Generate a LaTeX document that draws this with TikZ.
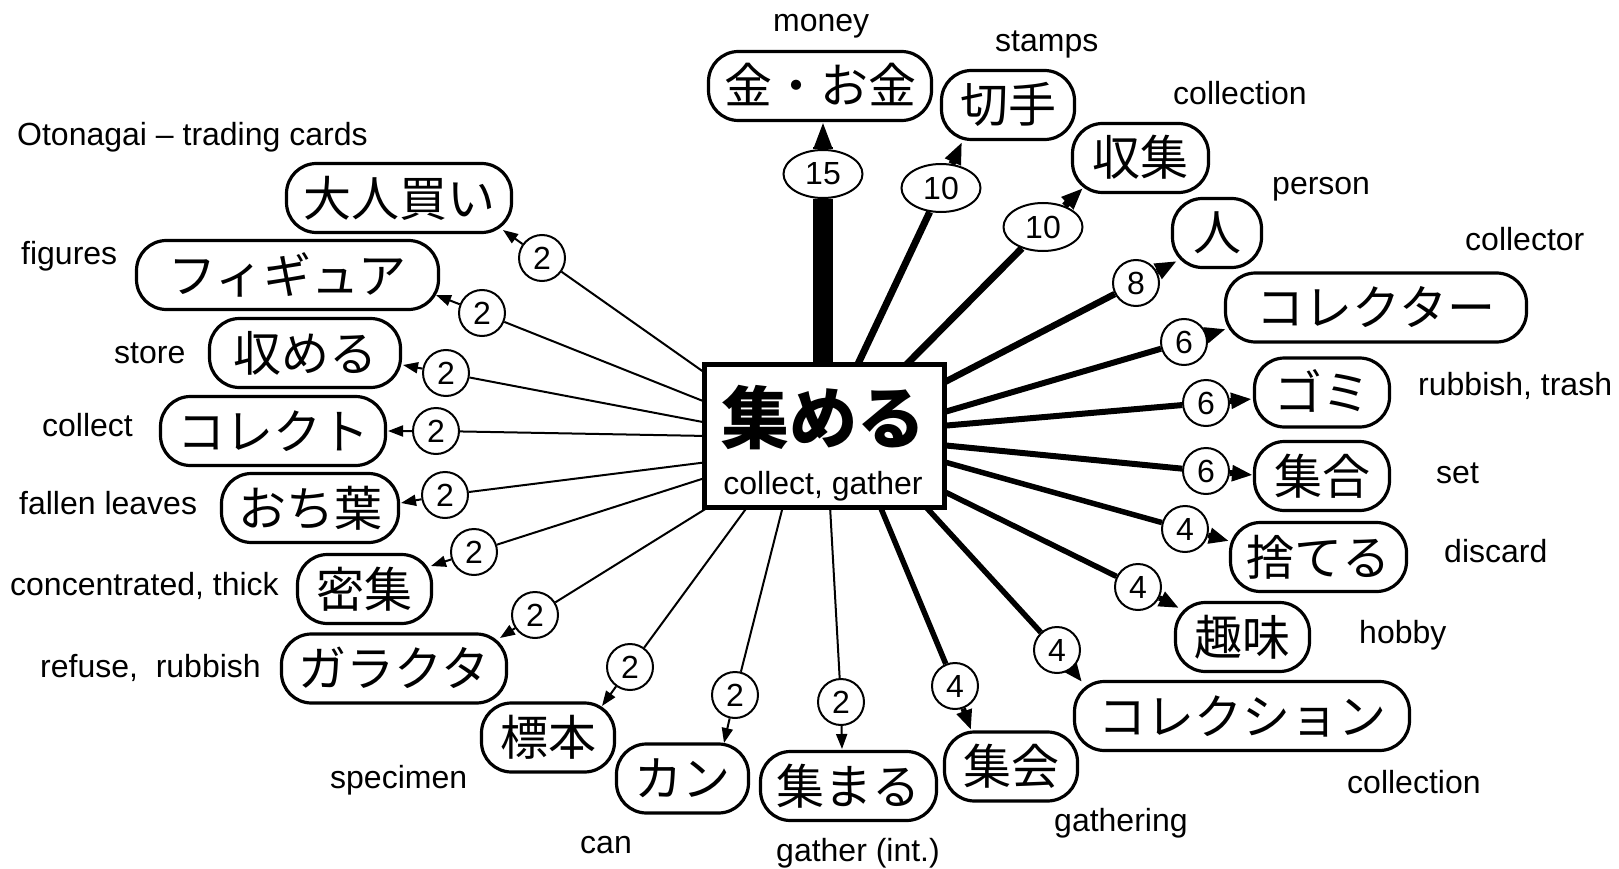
\documentclass[tikz,border=0pt]{standalone}
\usepackage{fontspec}
\setmainfont{Liberation Sans}
\newfontfamily\cjk{Noto Sans CJK JP}
\usetikzlibrary{shapes.geometric,arrows.meta,backgrounds}
\begin{document}
\begin{tikzpicture}[x=1pt,y=-1pt,
  jbox/.style={draw, line width=3.2pt, rounded corners=30pt, fill=white, inner xsep=12pt, inner ysep=0pt,
    minimum height=69pt, text height=41pt, text depth=5pt, font=\cjk\fontsize{48}{48}\selectfont},
  cbox/.style={draw, line width=5pt, fill=white, minimum width=240pt, minimum height=143pt, inner sep=0pt},
  lc/.style={draw, fill=white, circle, line width=2pt, inner sep=0pt, minimum size=46pt, font=\fontsize{32}{32}\selectfont},
  le/.style={draw, fill=white, ellipse, line width=2pt, inner sep=0pt, minimum width=79pt, minimum height=48pt, font=\fontsize{32}{32}\selectfont},
  txt/.style={inner sep=0pt, anchor=base west, font=\fontsize{32}{32}\selectfont},
  eA/.style={line width=2pt, -{Triangle[length=15pt,width=11pt]}},
  eB/.style={line width=5.5pt, -{Triangle[length=20pt,width=15pt]}},
  eC/.style={line width=6pt, -{Triangle[length=21pt,width=15pt]}},
  eD/.style={line width=6.5pt, -{Triangle[length=22pt,width=16pt]}},
  eE/.style={line width=7pt, -{Triangle[length=22pt,width=16pt]}},
  eF/.style={line width=20pt, -{Triangle[length=28pt,width=17pt]}},
]
\useasboundingbox (0,0) rectangle (1619,869);

% central node
\node[cbox] (c) at (824.5,436) {};
\node[anchor=base, inner sep=0pt, font=\cjk\bfseries\fontsize{68}{68}\selectfont] (cjp) at (823,443) {集める};
\node[anchor=base, inner sep=0pt, font=\fontsize{32}{32}\selectfont] (cen) at (823,494) {collect, gather};

% target nodes
\node[jbox, minimum width=223pt] (n1) at (820,86) {金・お金};
\node[jbox, minimum width=133pt] (n2) at (1008,105) {切手};
\node[jbox, minimum width=136pt] (n3) at (1140.5,158) {収集};
\node[jbox, minimum width=89pt] (n4) at (1217,233) {人};
\node[jbox, minimum width=301pt] (n5) at (1376,307.5) {コレクター};
\node[jbox, minimum width=135pt] (n6) at (1322,392.5) {ゴミ};
\node[jbox, minimum width=135pt] (n7) at (1322,476) {集合};
\node[jbox, minimum width=176pt] (n8) at (1318.5,557) {捨てる};
\node[jbox, minimum width=134pt] (n9) at (1242.5,637) {趣味};
\node[jbox, minimum width=335pt] (n10) at (1242,716) {コレクション};
\node[jbox, minimum width=133pt] (n11) at (1011,766.5) {集会};
\node[jbox, minimum width=176pt] (n12) at (848.5,786) {集まる};
\node[jbox, minimum width=132pt] (n13) at (682.5,778.5) {カン};
\node[jbox, minimum width=133pt] (n14) at (548,737.5) {標本};
\node[jbox, minimum width=225pt] (n15) at (394,668.5) {ガラクタ};
\node[jbox, minimum width=134pt] (n16) at (364.5,589) {密集};
\node[jbox, minimum width=177pt] (n17) at (310,508) {おち葉};
\node[jbox, minimum width=225pt] (n18) at (273,431) {コレクト};
\node[jbox, minimum width=191pt] (n19) at (305,353) {収める};
\node[jbox, minimum width=302pt] (n20) at (287.5,275) {フィギュア};
\node[jbox, minimum width=225pt] (n21) at (399,198) {大人買い};

% edge labels
\node[le] (l1) at (823,174) {15};
\node[le] (l2) at (941,188) {10};
\node[le] (l3) at (1043,227) {10};
\node[lc] (l4) at (1136,283) {8};
\node[lc] (l5) at (1184,342) {6};
\node[lc] (l6) at (1206,403) {6};
\node[lc] (l7) at (1206,471) {6};
\node[lc] (l8) at (1185,529) {4};
\node[lc] (l9) at (1138,587) {4};
\node[lc] (l10) at (1057,650) {4};
\node[lc] (l11) at (955,686) {4};
\node[lc] (l12) at (841,702) {2};
\node[lc] (l13) at (735,695) {2};
\node[lc] (l14) at (630,667) {2};
\node[lc] (l15) at (535,615) {2};
\node[lc] (l16) at (474,552) {2};
\node[lc] (l17) at (445,495) {2};
\node[lc] (l18) at (436,431) {2};
\node[lc] (l19) at (446,373) {2};
\node[lc] (l20) at (482,313) {2};
\node[lc] (l21) at (542,258) {2};

% edge end points
\coordinate (s1) at (823,366);   \coordinate (t1) at (823,121);
\coordinate (s2) at (857,366);   \coordinate (t2) at (962,142);
\coordinate (s3) at (905,366);   \coordinate (t3) at (1083,188);
\coordinate (s4) at (941,384);   \coordinate (t4) at (1177,261);
\coordinate (s5) at (941,413);   \coordinate (t5) at (1226,329);
\coordinate (s6) at (941,426);   \coordinate (t6) at (1252,399);
\coordinate (s7) at (941,445);   \coordinate (t7) at (1253,475);
\coordinate (s8) at (941,461);   \coordinate (t8) at (1229,541);
\coordinate (s9) at (941,490);   \coordinate (t9) at (1179,608);
\coordinate (s10) at (925,506);  \coordinate (t10) at (1082,682);
\coordinate (s11) at (880,506);  \coordinate (t11) at (971,730);
\coordinate (s12) at (830,506);  \coordinate (t12) at (842,749);
\coordinate (s13) at (783,506);  \coordinate (t13) at (724,743);
\coordinate (s14) at (748,506);  \coordinate (t14) at (602,706);
\coordinate (s15) at (707,508);  \coordinate (t15) at (500,638);
\coordinate (s16) at (708,477);  \coordinate (t16) at (431,566);
\coordinate (s17) at (708,462);  \coordinate (t17) at (401,503);
\coordinate (s18) at (708,436);  \coordinate (t18) at (388,431);
\coordinate (s19) at (708,423);  \coordinate (t19) at (403,365);
\coordinate (s20) at (708,403);  \coordinate (t20) at (436,295);
\coordinate (s21) at (708,375);  \coordinate (t21) at (503,230);

\begin{scope}[on background layer]
\fill[white] (0,0) rectangle (1619,869);
\draw[eF] (s1) -- (l1) -- (t1);
\draw[eE] (s2) -- (l2) -- (t2);
\draw[eE] (s3) -- (l3) -- (t3);
\draw[eD] (s4) -- (l4) -- (t4);
\draw[eC] (s5) -- (l5) -- (t5);
\draw[eC] (s6) -- (l6) -- (t6);
\draw[eC] (s7) -- (l7) -- (t7);
\draw[eB] (s8) -- (l8) -- (t8);
\draw[eB] (s9) -- (l9) -- (t9);
\draw[eB] (s10) -- (l10) -- (t10);
\draw[eB] (s11) -- (l11) -- (t11);
\draw[eA] (s12) -- (l12) -- (t12);
\draw[eA] (s13) -- (l13) -- (t13);
\draw[eA] (s14) -- (l14) -- (t14);
\draw[eA] (s15) -- (l15) -- (t15);
\draw[eA] (s16) -- (l16) -- (t16);
\draw[eA] (s17) -- (l17) -- (t17);
\draw[eA] (s18) -- (l18) -- (t18);
\draw[eA] (s19) -- (l19) -- (t19);
\draw[eA] (s20) -- (l20) -- (t20);
\draw[eA] (s21) -- (l21) -- (t21);
\end{scope}

% English glosses
\node[txt] (tm) at (773,32) {money};
\node[txt] (ts) at (995,52) {stamps};
\node[txt] (tc1) at (1173,105) {collection};
\node[txt] (tp) at (1272,195) {person};
\node[txt] (tcr) at (1465,250) {collector};
\node[txt] (trt) at (1418,395) {rubbish, trash};
\node[txt] (tset) at (1436,483) {set};
\node[txt] (tdis) at (1444,562) {discard};
\node[txt] (thob) at (1359,643) {hobby};
\node[txt] (tc2) at (1347,793) {collection};
\node[txt] (tgat) at (1054,831) {gathering};
\node[txt] (tgi) at (776,861) {gather (int.)};
\node[txt] (tcan) at (580,853) {can};
\node[txt] (tspe) at (330,788) {specimen};
\node[txt] (tref) at (40,677) {refuse,\ \ rubbish};
\node[txt] (tcon) at (10,595) {concentrated, thick};
\node[txt] (tfal) at (19,514) {fallen leaves};
\node[txt] (tcol) at (42,436) {collect};
\node[txt] (tsto) at (114,363) {store};
\node[txt] (tfig) at (21,264) {figures};
\node[txt] (toto) at (17,146) {Otonagai – trading cards};
\end{tikzpicture}
\end{document}
